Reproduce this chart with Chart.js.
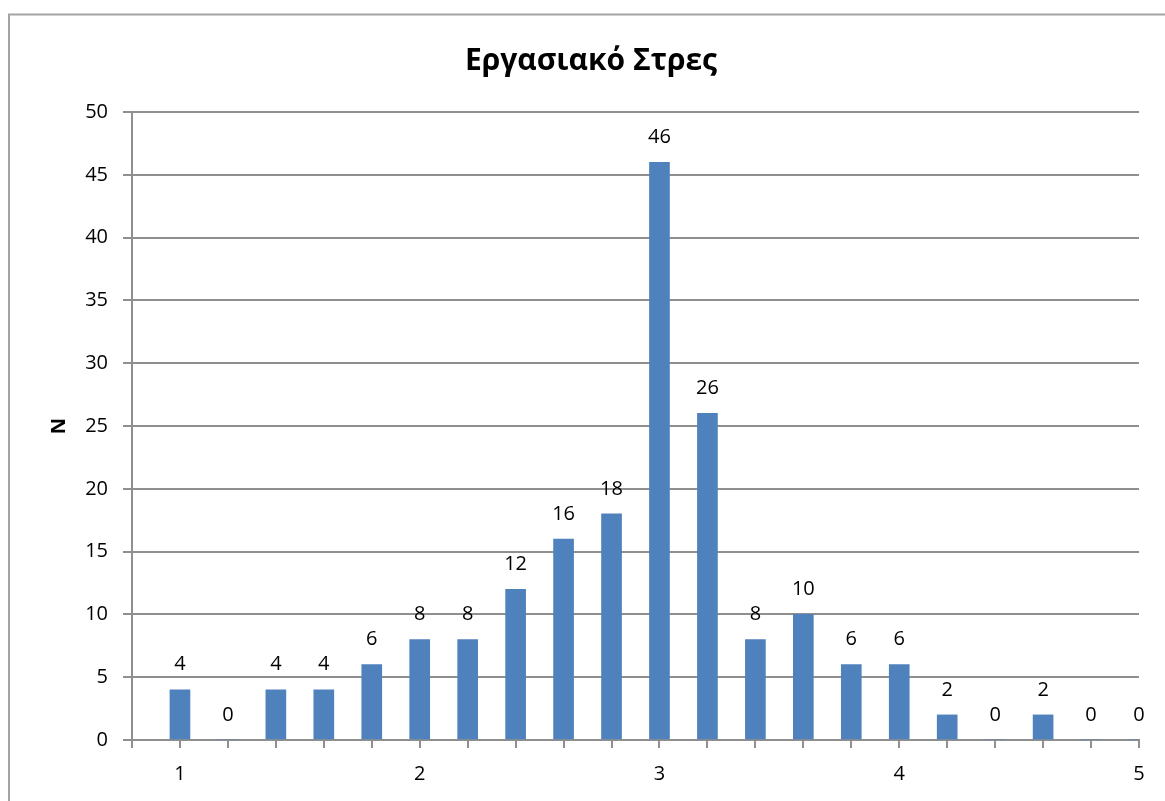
<!DOCTYPE html>
<html>
<head>
<meta charset="utf-8">
<script src="https://cdn.jsdelivr.net/npm/chart.js@4"></script>
<style>
html,body{margin:0;padding:0;background:#fff;overflow:hidden;}
canvas{display:block;}
</style>
</head>
<body>
<canvas id="c" width="1165" height="801"></canvas>
<script>
const categories = [1, 1.2, 1.4, 1.6, 1.8, 2, 2.2, 2.4, 2.6, 2.8, 3, 3.2, 3.4, 3.6, 3.8, 4, 4.2, 4.4, 4.6, 4.8, 5];
const counts     = [4, 0, 4, 4, 6, 8, 8, 12, 16, 18, 46, 26, 8, 10, 6, 6, 2, 0, 2, 0, 0];
const xTickValues = [0.8, 1, 1.2, 1.4, 1.6, 1.8, 2, 2.2, 2.4, 2.6, 2.8, 3, 3.2, 3.4, 3.6, 3.8, 4, 4.2, 4.4, 4.6, 4.8, 5];
const xTickLabels = ['1', '2', '3', '4', '5'];
const yTickValues = [0, 5, 10, 15, 20, 25, 30, 35, 40, 45, 50];
const chartTitle = 'Εργασιακό Στρες';
const yTitle = 'N';

const FONT = "'Open Sans', 'Noto Sans', sans-serif";
const GRID = '#8f8f8f';

const frame = {
  id: 'frame',
  beforeDraw(chart) {
    const ctx = chart.ctx;
    ctx.save();
    ctx.fillStyle = '#fff';
    ctx.fillRect(0, 0, chart.width, chart.height);
    ctx.strokeStyle = '#a3a3a3';
    ctx.lineWidth = 2;
    ctx.strokeRect(9, 14.5, chart.width + 50, chart.height + 50);
    ctx.restore();
  }
};

const valueLabels = {
  id: 'valueLabels',
  afterDatasetsDraw(chart) {
    const ctx = chart.ctx;
    const meta = chart.getDatasetMeta(0);
    ctx.save();
    ctx.font = '20px ' + FONT;
    ctx.fillStyle = '#000';
    ctx.textAlign = 'center';
    ctx.textBaseline = 'middle';
    meta.data.forEach((el, i) => {
      ctx.fillText(String(counts[i]), el.x, el.y - 25);
    });
    ctx.restore();
  }
};

new Chart(document.getElementById('c'), {
  type: 'bar',
  data: {
    datasets: [{
      data: categories.map((c, i) => ({ x: c, y: counts[i] })),
      backgroundColor: '#4f81bd',
      borderWidth: 0,
      barThickness: 20
    }]
  },
  options: {
    responsive: false,
    animation: false,
    layout: { padding: { left: 43, right: 26, top: 0, bottom: 0 } },
    plugins: {
      legend: { display: false },
      tooltip: { enabled: false },
      title: {
        display: true,
        text: chartTitle,
        color: '#000',
        font: { family: FONT, size: 30, weight: 'bold', lineHeight: 1.2 },
        padding: { top: 43, bottom: 33 }
      }
    },
    scales: {
      x: {
        type: 'linear',
        offset: false,
        min: 0.8,
        max: 5,
        afterBuildTicks(scale) {
          scale.ticks = xTickValues.map(v => ({ value: v }));
        },
        afterFit(scale) { scale.height = 61; },
        ticks: {
          autoSkip: false,
          maxRotation: 0,
          color: '#000',
          padding: 14,
          font: { family: FONT, size: 20 },
          callback(value) {
            const r = Math.round(value);
            if (Math.abs(value - r) < 1e-6 && xTickLabels.includes(String(r))) return String(r);
            return '';
          }
        },
        grid: {
          display: true,
          offset: false,
          drawOnChartArea: false,
          drawTicks: true,
          tickLength: 8,
          color: GRID,
          lineWidth: 2
        },
        border: { display: true, color: GRID, width: 2 }
      },
      y: {
        min: 0,
        max: 50,
        afterBuildTicks(scale) {
          scale.ticks = yTickValues.map(v => ({ value: v }));
        },
        afterFit(scale) { scale.width = 89; },
        ticks: {
          color: '#000',
          padding: 15,
          font: { family: FONT, size: 20 }
        },
        grid: {
          color: GRID,
          lineWidth: 2,
          drawTicks: true,
          tickLength: 9
        },
        border: { display: true, color: GRID, width: 2 },
        title: {
          display: true,
          text: yTitle,
          color: '#000',
          font: { family: FONT, size: 20, weight: 'bold', lineHeight: 1.2 },
          padding: { top: 4, bottom: 0 }
        }
      }
    }
  },
  plugins: [frame, valueLabels]
});
</script>
</body>
</html>
